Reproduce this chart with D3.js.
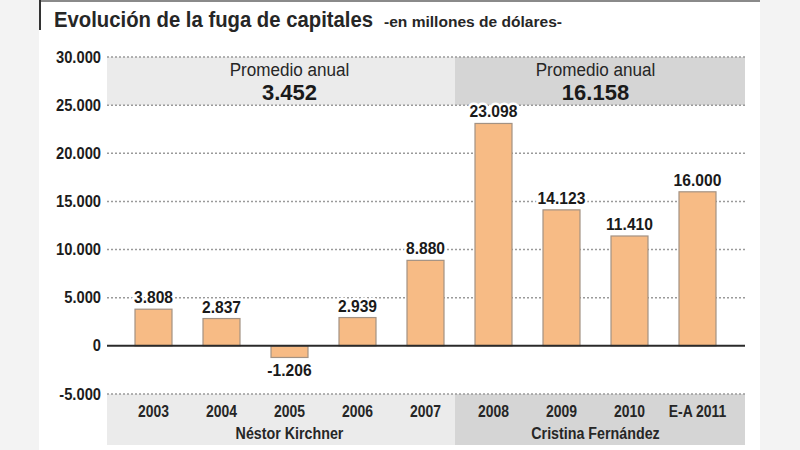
<!DOCTYPE html>
<html>
<head>
<meta charset="utf-8">
<script src="https://cdn.jsdelivr.net/npm/d3@7"></script>
<style>
  body { margin: 0; background: #f3f3f3; }
  svg text { font-family: "Liberation Sans", Arial, sans-serif; }
</style>
</head>
<body>
<div id="chart"></div>
<script>
// data (millones de dólares)
const categories = ["2003", "2004", "2005", "2006", "2007", "2008", "2009", "2010", "E-A 2011"];
const values = [3808, 2837, -1206, 2939, 8880, 23098, 14123, 11410, 16000];
const yTicks = [-5000, 0, 5000, 10000, 15000, 20000, 25000, 30000];

const presidents = ["Néstor Kirchner", "Cristina Fernández"];
const periodFirst = ["2003", "2008"];
const periodLast = ["2007", "E-A 2011"];
const averages = [3452, 16158];

const W = 800, H = 450;
const plotLeft = 107, plotRight = 745;

const es = d3.formatLocale({ decimal: ",", thousands: ".", grouping: [3], currency: ["$", ""], minus: "-" });
const fmt = es.format(",d");

// squeeze text horizontally (the original uses a condensed face)
function narrow(sel, k) {
  sel.each(function () {
    const t = d3.select(this);
    const tx = +t.attr("x") || 0, ty = +t.attr("y") || 0;
    t.attr("x", 0).attr("y", 0)
      .attr("transform", "translate(" + tx + "," + ty + ") scale(" + k + ",1)");
  });
}

const svg = d3.select("#chart")
  .append("svg")
  .attr("width", W)
  .attr("height", H);

// white sheet with the frame lines
svg.append("rect")
  .attr("x", 39).attr("y", 0)
  .attr("width", 721).attr("height", H)
  .style("fill", "#ffffff");
svg.append("line")
  .attr("x1", 39).attr("x2", 760).attr("y1", 1).attr("y2", 1)
  .attr("stroke", "#8a8a8a").attr("stroke-width", 2);
svg.append("line")
  .attr("x1", 40).attr("x2", 40).attr("y1", 0).attr("y2", 30)
  .attr("stroke", "#333").attr("stroke-width", 2);

// title
svg.append("text")
  .attr("x", 54).attr("y", 27)
  .attr("textLength", 319).attr("lengthAdjust", "spacingAndGlyphs")
  .style("fill", "#262626").style("font-size", "22px").style("font-weight", "bold")
  .text("Evolución de la fuga de capitales");
svg.append("text")
  .attr("x", 384).attr("y", 27)
  .attr("textLength", 178).attr("lengthAdjust", "spacingAndGlyphs")
  .style("fill", "#262626").style("font-size", "14px").style("font-weight", "bold")
  .text("-en millones de dólares-");

// scales
const x = d3.scaleBand()
  .domain(categories)
  .range([119.5, 731.5])
  .paddingInner(0.456)
  .paddingOuter(0.228);

const y = d3.scaleLinear()
  .domain([-5000, 30000])
  .range([394, 57]);

// split point between the two periods
const splitX = x(periodFirst[1]) - 20;

// shaded bands top (average) and bottom (years + names)
const bandLeft = [plotLeft, splitX];
const bandRight = [splitX, plotRight];
const bandFill = ["#ebebeb", "#d5d5d5"];

presidents.forEach(function (p, i) {
  svg.append("rect")
    .attr("x", bandLeft[i]).attr("y", y(30000))
    .attr("width", bandRight[i] - bandLeft[i])
    .attr("height", y(25000) - y(30000))
    .style("fill", bandFill[i]);
  svg.append("rect")
    .attr("x", bandLeft[i]).attr("y", y(-5000))
    .attr("width", bandRight[i] - bandLeft[i])
    .attr("height", 445 - y(-5000))
    .style("fill", bandFill[i]);
});

// y axis labels
const yAxis = svg.append("g")
  .attr("transform", "translate(" + (plotLeft - 6) + ",0)")
  .call(d3.axisLeft(y).tickValues(yTicks).tickSize(0).tickPadding(0).tickFormat(fmt));
yAxis.select(".domain").remove();
yAxis.selectAll(".tick text")
  .style("font-size", "16px").style("font-weight", "bold").attr("fill", "#1c1c1c")
  .call(narrow, 0.92);

// dotted grid
svg.append("g")
  .selectAll("line")
  .data(yTicks.filter(function (d) { return d !== 0; }))
  .enter()
  .append("line")
    .attr("x1", plotLeft).attr("x2", plotRight)
    .attr("y1", function (d) { return y(d); })
    .attr("y2", function (d) { return y(d); })
    .attr("stroke", "#9a9a9a")
    .attr("stroke-width", 1.5)
    .attr("stroke-dasharray", "2,2");

// average and president labels
presidents.forEach(function (p, i) {
  const cx = (x(periodFirst[i]) + x(periodLast[i]) + x.bandwidth()) / 2;
  svg.append("text")
    .attr("x", cx).attr("y", 76)
    .attr("text-anchor", "middle")
    .style("font-size", "19px").style("fill", "#262626")
    .text("Promedio anual")
    .call(narrow, 0.9);
  svg.append("text")
    .attr("x", cx).attr("y", 100)
    .attr("text-anchor", "middle")
    .style("font-size", "22px").style("font-weight", "bold").style("fill", "#1a1a1a")
    .text(fmt(averages[i]));
  svg.append("text")
    .attr("x", cx).attr("y", 439)
    .attr("text-anchor", "middle")
    .style("font-size", "17px").style("font-weight", "bold").style("fill", "#262626")
    .text(p)
    .call(narrow, 0.84);
});

// year labels
svg.append("g")
  .selectAll("text")
  .data(categories)
  .enter()
  .append("text")
    .attr("x", function (d) { return x(d) + x.bandwidth() / 2; })
    .attr("y", 417)
    .attr("text-anchor", "middle")
    .style("font-size", "17px").style("font-weight", "bold").style("fill", "#262626")
    .text(function (d) { return d; })
    .call(narrow, 0.82);

// bars
svg.append("g")
  .selectAll("rect")
  .data(values)
  .enter()
  .append("rect")
    .attr("x", function (d, i) { return x(categories[i]); })
    .attr("y", function (d) { return y(Math.max(0, d)); })
    .attr("width", x.bandwidth())
    .attr("height", function (d) { return Math.abs(y(d) - y(0)); })
    .style("fill", "#f7bb85")
    .attr("stroke", "#a39283")
    .attr("stroke-width", 1.2);

// zero line
svg.append("line")
  .attr("x1", plotLeft).attr("x2", plotRight)
  .attr("y1", y(0)).attr("y2", y(0))
  .attr("stroke", "#2a2a2a").attr("stroke-width", 2);

// value labels, knocked out of the grid with a white halo
svg.append("g")
  .selectAll("text")
  .data(values)
  .enter()
  .append("text")
    .attr("x", function (d, i) { return x(categories[i]) + x.bandwidth() / 2; })
    .attr("y", function (d) { return d >= 0 ? y(d) - 6 : y(d) + 19; })
    .attr("text-anchor", "middle")
    .style("font-size", "17px").style("font-weight", "bold").style("fill", "#1a1a1a")
    .style("stroke", "#ffffff").style("stroke-width", 5).style("paint-order", "stroke")
    .text(function (d) { return fmt(d); })
    .call(narrow, 0.92);
</script>
</body>
</html>
